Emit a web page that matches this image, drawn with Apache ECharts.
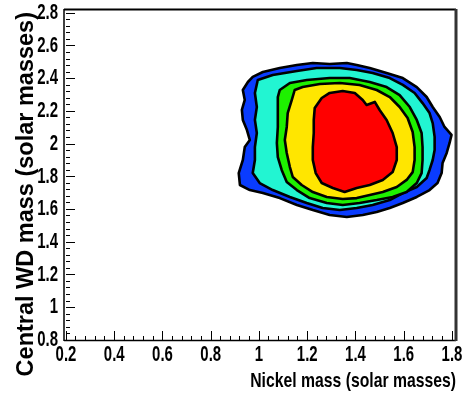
<!DOCTYPE html>
<html>
<head>
<meta charset="utf-8">
<script src="https://cdn.jsdelivr.net/npm/echarts@6/dist/echarts.min.js"></script>
<style>html,body{margin:0;padding:0;background:#fff;}#c{width:465px;height:398px;}</style>
</head>
<body>
<div id="c"></div>
<script>
// Axis ranges / ticks
var xMin = 0.2, xMax = 1.8, xStep = 0.2;
var yMin = 0.8, yMax = 2.8, yStep = 0.2;
var xTickLabels = [0.2, 0.4, 0.6, 0.8, 1, 1.2, 1.4, 1.6, 1.8];
var yTickLabels = [0.8, 1, 1.2, 1.4, 1.6, 1.8, 2, 2.2, 2.4, 2.6, 2.8];
var xTitle = 'Nickel mass (solar masses)';
var yTitle = 'Central WD mass (solar masses)';

// Contour level boundaries (x = nickel mass, y = central WD mass), outermost first
var levelBlue = [[0.974,2.409],[1.016,2.439],[1.086,2.464],[1.157,2.482],[1.223,2.494],[1.293,2.488],[1.364,2.494],[1.405,2.482],[1.459,2.464],[1.529,2.433],[1.596,2.402],[1.654,2.347],[1.695,2.286],[1.720,2.225],[1.749,2.164],[1.769,2.103],[1.798,2.054],[1.790,2.005],[1.778,1.944],[1.761,1.883],[1.757,1.821],[1.740,1.760],[1.707,1.717],[1.654,1.675],[1.596,1.638],[1.542,1.607],[1.488,1.583],[1.430,1.565],[1.364,1.552],[1.293,1.565],[1.223,1.595],[1.157,1.626],[1.086,1.668],[1.016,1.699],[0.962,1.717],[0.921,1.748],[0.916,1.821],[0.933,1.901],[0.941,1.980],[0.962,2.023],[0.950,2.084],[0.933,2.146],[0.929,2.207],[0.941,2.268],[0.933,2.329],[0.954,2.378]];
var levelCyan = [[0.995,2.390],[1.057,2.421],[1.157,2.445],[1.239,2.464],[1.335,2.464],[1.405,2.451],[1.471,2.433],[1.542,2.402],[1.596,2.360],[1.645,2.311],[1.678,2.249],[1.707,2.188],[1.720,2.127],[1.728,2.042],[1.728,1.962],[1.720,1.901],[1.707,1.840],[1.695,1.791],[1.654,1.736],[1.596,1.699],[1.542,1.656],[1.471,1.626],[1.405,1.607],[1.335,1.595],[1.264,1.607],[1.198,1.638],[1.128,1.675],[1.057,1.717],[1.003,1.760],[0.974,1.821],[0.983,1.901],[0.983,1.980],[0.991,2.066],[0.983,2.146],[0.991,2.225],[0.983,2.311]];
var levelGreen = [[1.086,2.329],[1.128,2.372],[1.198,2.390],[1.293,2.402],[1.376,2.402],[1.459,2.378],[1.529,2.347],[1.583,2.298],[1.625,2.225],[1.654,2.146],[1.674,2.066],[1.678,1.980],[1.678,1.901],[1.674,1.821],[1.654,1.760],[1.612,1.705],[1.554,1.675],[1.488,1.656],[1.417,1.638],[1.347,1.626],[1.281,1.638],[1.210,1.668],[1.157,1.717],[1.115,1.766],[1.094,1.840],[1.078,1.919],[1.074,2.005],[1.078,2.103],[1.078,2.207],[1.078,2.286]];
var levelYellow = [[1.148,2.329],[1.181,2.347],[1.252,2.366],[1.335,2.372],[1.417,2.360],[1.488,2.329],[1.542,2.286],[1.583,2.225],[1.616,2.158],[1.637,2.072],[1.645,1.980],[1.645,1.901],[1.637,1.827],[1.612,1.779],[1.571,1.736],[1.513,1.705],[1.459,1.687],[1.405,1.668],[1.347,1.662],[1.281,1.675],[1.223,1.705],[1.177,1.748],[1.140,1.797],[1.128,1.858],[1.115,1.944],[1.107,2.023],[1.115,2.103],[1.119,2.188],[1.136,2.268]];
var levelRed = [[1.231,2.219],[1.260,2.280],[1.293,2.311],[1.347,2.323],[1.397,2.311],[1.430,2.268],[1.446,2.237],[1.480,2.256],[1.500,2.207],[1.529,2.146],[1.554,2.066],[1.571,1.980],[1.571,1.901],[1.554,1.827],[1.513,1.779],[1.459,1.748],[1.405,1.730],[1.355,1.705],[1.306,1.730],[1.260,1.760],[1.235,1.821],[1.223,1.901],[1.223,1.980],[1.227,2.066],[1.227,2.146]];

var levels = [levelBlue, levelCyan, levelGreen, levelYellow, levelRed];
var levelColors = ['#0a3cff', '#22f5d2', '#1ef000', '#ffe600', '#ff0000'];

var sans = "'Liberation Sans', Arial, Helvetica, sans-serif";
var labelFont = 'bold 22px ' + sans;
var labelScaleX = 0.68;

var chart = echarts.init(document.getElementById('c'), null, {renderer: 'canvas'});

var series = levels.map(function (pts, li) {
  return {
    type: 'custom',
    coordinateSystem: 'cartesian2d',
    data: pts,
    z: 2 + li,
    silent: true,
    renderItem: function (params, api) {
      if (params.dataIndex !== 0) return null;
      var poly = pts.map(function (p) { return api.coord(p); });
      return {
        type: 'polygon',
        shape: {points: poly},
        style: {fill: levelColors[li], stroke: '#000', lineWidth: 2.6, lineJoin: 'round'}
      };
    }
  };
});

// tick labels (condensed bold, as in the reference) placed through the axis scales
series.push({
  type: 'custom', coordinateSystem: 'cartesian2d', clip: false, silent: true, z: 50,
  data: xTickLabels.map(function (v) { return [v, yMin]; }),
  renderItem: function (params, api) {
    var p = api.coord([api.value(0), api.value(1)]);
    return {type: 'text', x: p[0], y: p[1] + 15, scaleX: labelScaleX,
      style: {text: String(xTickLabels[params.dataIndex]), font: labelFont, fill: '#000', align: 'center', verticalAlign: 'middle'}};
  }
});
series.push({
  type: 'custom', coordinateSystem: 'cartesian2d', clip: false, silent: true, z: 50,
  data: yTickLabels.map(function (v) { return [xMin, v]; }),
  renderItem: function (params, api) {
    var p = api.coord([api.value(0), api.value(1)]);
    return {type: 'text', x: p[0] - 8, y: p[1], scaleX: labelScaleX,
      style: {text: String(yTickLabels[params.dataIndex]), font: labelFont, fill: '#000', align: 'right', verticalAlign: 'middle'}};
  }
});

chart.setOption({
  animation: false,
  backgroundColor: '#fff',
  grid: {left: 66, right: 13, top: 13, bottom: 58, show: false},
  xAxis: {
    type: 'value', min: xMin, max: xMax, interval: xStep,
    axisLine: {show: false},
    axisTick: {show: true, inside: true, length: 9, lineStyle: {color: '#000', width: 1}},
    minorTick: {show: true, splitNumber: 5, length: 4, lineStyle: {color: '#000', width: 1}},
    splitLine: {show: false},
    axisLabel: {show: false}
  },
  yAxis: {
    type: 'value', min: yMin, max: yMax, interval: yStep,
    axisLine: {show: false},
    axisTick: {show: true, inside: true, length: 9, lineStyle: {color: '#000', width: 1}},
    minorTick: {show: true, splitNumber: 5, length: 4, lineStyle: {color: '#000', width: 1}},
    splitLine: {show: false},
    axisLabel: {show: false}
  },
  series: series,
  graphic: [
    {type: 'line', shape: {x1: 64, y1: 9.5, x2: 456, y2: 9.5}, style: {stroke: '#000', lineWidth: 2}, z: 100},
    {type: 'line', shape: {x1: 64, y1: 9, x2: 64, y2: 341}, style: {stroke: '#000', lineWidth: 1.5}, z: 100},
    {type: 'line', shape: {x1: 64, y1: 340.5, x2: 456, y2: 340.5}, style: {stroke: '#000', lineWidth: 1.5}, z: 100},
    {type: 'line', shape: {x1: 456, y1: 9, x2: 456, y2: 341}, style: {stroke: '#333', lineWidth: 3}, z: 100},
    {type: 'text', z: 100, x: 456, y: 381, scaleX: 0.75,
      style: {text: xTitle, fill: '#000', font: 'bold 21px ' + sans, align: 'right', verticalAlign: 'middle'}},
    {type: 'text', z: 100, x: 27, y: 12, rotation: Math.PI / 2,
      style: {text: yTitle, fill: '#000', font: 'bold 23.5px ' + sans, align: 'right', verticalAlign: 'middle'}}
  ]
});
</script>
</body>
</html>
